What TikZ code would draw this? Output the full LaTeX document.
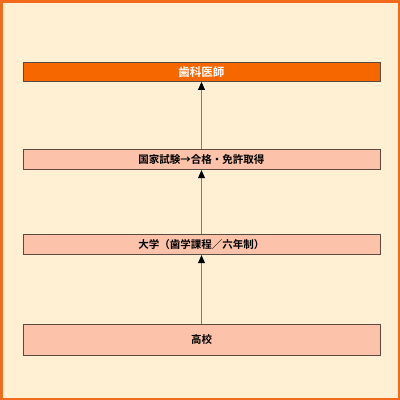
\documentclass[tikz,border=0pt]{standalone}
\usepackage{fontspec}
\newfontfamily\jpfont{Noto Sans CJK JP}[BoldFont={Noto Sans CJK JP Bold}]
\usetikzlibrary{arrows.meta}
\definecolor{pagebg}{HTML}{FFEFD3}
\definecolor{frameor}{HTML}{F26A1B}
\definecolor{goalor}{HTML}{F76700}
\definecolor{stepfill}{HTML}{FCC3AA}
\definecolor{stepline}{HTML}{5B4B43}
\definecolor{linkgray}{HTML}{857A70}
\begin{document}
\begin{tikzpicture}[
  x=1pt,y=-1pt,
  line join=miter,
  stage/.style={draw=stepline,fill=stepfill,line width=0.9pt,minimum width=357pt,
    inner sep=0pt,font=\jpfont\bfseries\fontsize{10.5pt}{12pt}\selectfont,text=black},
  goal/.style={stage,fill=goalor,text=white,font=\jpfont\bfseries\fontsize{11.5pt}{13pt}\selectfont},
  link/.style={draw=linkgray,line width=0.8pt,-{Triangle[black,length=8pt,width=7pt]}}
]

% page and frame
\fill[pagebg] (0,0) rectangle (400,400);
\draw[frameor,line width=2.5pt] (1.25,1.25) rectangle (398.75,398.75);
\useasboundingbox (0,0) rectangle (400,400);

% stages, bottom to top
\node[stage,minimum height=31pt] (school) at (201.5,339.7) {高校};
\node[stage,minimum height=20pt] (univ) at (201.5,244.7) {大学（歯学課程／六年制）};
\node[stage,minimum height=20pt] (exam) at (201.5,159.7) {国家試験→合格・免許取得};
\node[goal,minimum height=19pt] (dentist) at (201.5,72) {歯科医師};

% arrows
\draw[link] (school) -- (univ);
\draw[link] (univ) -- (exam);
\draw[link] (exam) -- (dentist);

\end{tikzpicture}
\end{document}
